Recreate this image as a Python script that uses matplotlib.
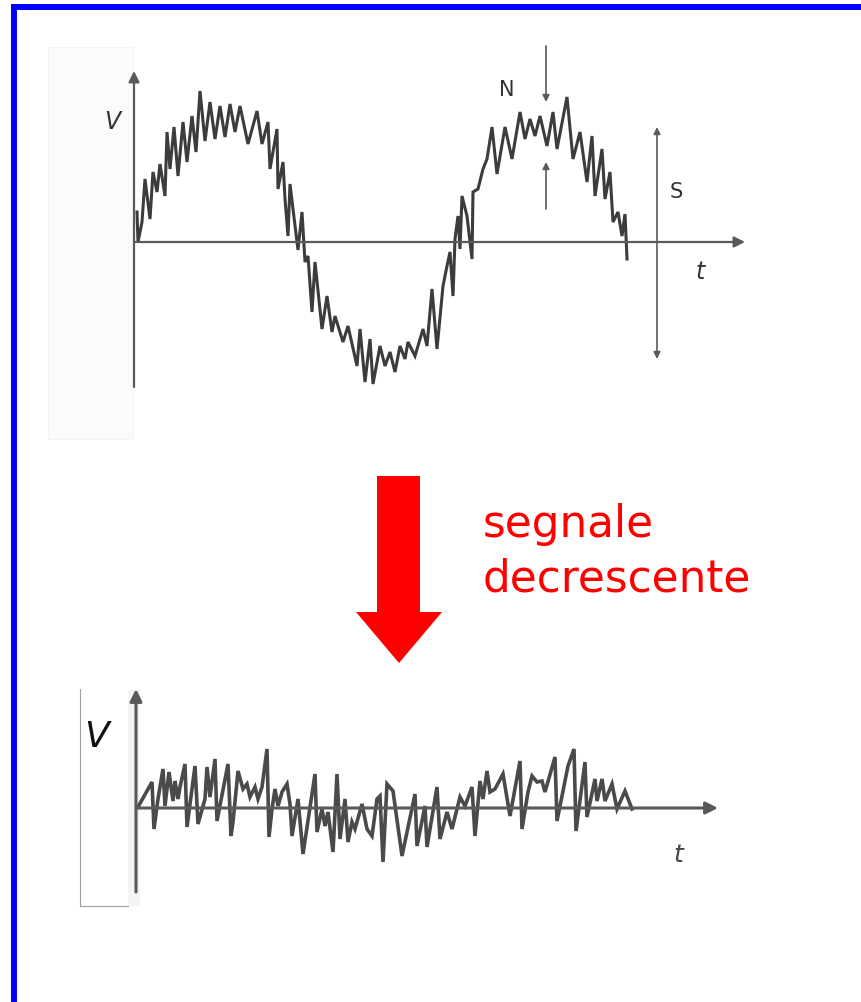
import matplotlib
matplotlib.use("Agg")
import matplotlib.pyplot as plt
from matplotlib.patches import Polygon, Rectangle

# ---------------- data ----------------
# Top trace: signal + noise (t in arbitrary time units, v in mV-like units)
top_t = [3, 4, 8, 11, 16, 19, 23, 26, 31, 33, 36, 40, 44, 49, 53, 58, 62, 66, 71, 76,
         81, 86, 91, 96, 101, 106, 114, 123, 128, 134, 136, 143, 144, 149, 151, 154, 156,
         159, 164, 168, 171, 174, 178, 181, 188, 193, 198, 201, 209, 214, 223, 226, 231,
         236, 239, 246, 251, 256, 261, 266, 271, 274, 281, 289, 293, 298, 303, 309, 313,
         316, 319, 321, 324, 326, 328, 333, 338, 339, 344, 349, 353, 358, 363, 371, 378,
         386, 391, 396, 401, 406, 413, 419, 423, 433, 439, 446, 453, 458, 461, 468, 471,
         476, 479, 484, 488, 491, 493]
top_v = [30, 0, 20, 63, 23, 70, 50, 78, 46, 110, 73, 115, 66, 120, 80, 126, 90, 151, 101, 140,
         103, 136, 105, 138, 110, 136, 98, 131, 98, 120, 73, 113, 53, 80, 43, 6, 58,
         33, -8, 30, -20, -14, -70, -20, -87, -54, -90, -74, -100, -84, -124, -87, -140,
         -97, -142, -104, -124, -110, -130, -104, -117, -100, -114, -87, -104, -47, -107, -44, -24,
         -10, -54, 3, 26, -7, 46, 26, -17, 50, 53, 73, 83, 115, 68, 115, 83,
         130, 103, 123, 106, 126, 96, 130, 93, 145, 83, 110, 60, 106, 46, 93, 43,
         70, 20, 30, 6, 28, -17]

# Bottom trace: decreased signal, same noise level
bot_t = [2, 16, 18, 22, 27, 29, 33, 37, 39, 42, 44, 49, 51, 59, 62, 69, 71, 74, 79, 81,
         92, 95, 97, 102, 107, 111, 114, 119, 122, 126, 131, 133, 136, 139, 142, 146, 151,
         154, 156, 162, 167, 179, 181, 186, 189, 192, 197, 201, 204, 209, 212, 216, 219,
         226, 231, 236, 241, 244, 247, 251, 257, 266, 279, 281, 289, 291, 301, 304, 311,
         316, 324, 329, 336, 339, 344, 347, 351, 354, 359, 367, 374, 384, 386, 392, 396,
         401, 406, 409, 419, 421, 432, 438, 440, 449, 451, 459, 461, 466, 469, 476, 481,
         489, 496]
bot_v = [1, 26, -21, 9, 39, 2, 36, 7, 27, 9, 21, 44, -19, 42, -16, 9, 41, 11, 49, -13,
         44, -28, -14, 37, 19, 24, 11, 21, 9, 21, 59, -29, -1, 19, 2, 16, 24,
         4, -28, 9, -46, 34, -24, -1, -18, -4, -44, 34, -31, 9, -34, -14, -21,
         4, -21, -28, 9, 12, -54, 24, 17, -48, 14, -38, 2, -39, 21, -31, -4,
         -21, 11, 2, 21, -28, 27, 9, 37, 16, 19, 34, -8, 47, -21, 16, 32,
         26, 27, 16, 51, -13, 42, 59, -23, 46, -9, 29, 7, 29, 7, 24, -1,
         17, -1]

top_labels = {"V": "V", "t": "t", "N": "N", "S": "S"}
caption = ["segnale", "decrescente"]

# ---------------- figure ----------------
W, H = 861, 1003
fig = plt.figure(figsize=(W / 100, H / 100), dpi=100)
fig.patch.set_facecolor("white")

# overlay (pixel layout) axes for decorations
bg = fig.add_axes([0, 0, 1, 1])
bg.set_xlim(0, W)
bg.set_ylim(H, 0)
bg.axis("off")

# blue frame (left and top only)
bg.plot([13.5, 13.5], [5, H], color="#0000ff", lw=4.3, solid_capstyle="butt")
bg.plot([11, W], [8, 8], color="#0000ff", lw=4.3, solid_capstyle="butt")

# faint scan background of the top picture
bg.add_patch(Rectangle((48, 48), 85, 392, facecolor="#fbfbfb", edgecolor="#f3f3f3", lw=0.6))
# scan frame of the bottom picture
bg.plot([80, 80], [690, 907], color="#a0a0a0", lw=0.8)
bg.plot([80, 128], [907, 907], color="#a0a0a0", lw=0.8)
bg.add_patch(Rectangle((128, 690), 12, 217, facecolor="#f4f4f4", edgecolor="none"))

# red arrow
arrow = Polygon([(377, 477), (420, 477), (420, 613), (442, 613), (399, 664),
                 (356, 613), (377, 613)], closed=True, facecolor="#ff0000", edgecolor="none")
bg.add_patch(arrow)
bg.text(483, 537, caption[0], color="#ff0000", fontsize=31.5, family="DejaVu Sans",
        va="baseline", ha="left")
bg.text(483, 592, caption[1], color="#ff0000", fontsize=31.5, family="DejaVu Sans",
        va="baseline", ha="left")

curve_col = "#3c3c3c"
axis_col = "#5a5a5a"


def make_axes(x0, x1, y_top, y_bot, y_zero):
    """Axes whose data unit equals one pixel; origin at (x0, y_zero)."""
    ax = fig.add_axes([x0 / W, 1 - y_bot / H, (x1 - x0) / W, (y_bot - y_top) / H])
    ax.set_xlim(0, x1 - x0)
    ax.set_ylim(y_zero - y_bot, y_zero - y_top)
    ax.axis("off")
    ax.patch.set_alpha(0)
    return ax


# ---------------- top plot ----------------
ax1 = make_axes(134, 760, 40, 395, 243)
ax1.annotate("", xy=(611, 0), xytext=(0, 0),
             arrowprops=dict(arrowstyle="-|>", color=axis_col, lw=1.6, mutation_scale=16,
                             shrinkA=0, shrinkB=0))
ax1.annotate("", xy=(0, 171), xytext=(0, -145),
             arrowprops=dict(arrowstyle="-|>", color=axis_col, lw=1.6, mutation_scale=16,
                             shrinkA=0, shrinkB=0))
ax1.plot(top_t, top_v, color=curve_col, lw=2.2, solid_joinstyle="miter")
# noise marker N
ax1.annotate("", xy=(412, 140), xytext=(412, 196),
             arrowprops=dict(arrowstyle="-|>", color=axis_col, lw=1.2, mutation_scale=10,
                             shrinkA=0, shrinkB=0))
ax1.annotate("", xy=(412, 80), xytext=(412, 33),
             arrowprops=dict(arrowstyle="-|>", color=axis_col, lw=1.2, mutation_scale=10,
                             shrinkA=0, shrinkB=0))
# signal marker S
ax1.annotate("", xy=(523, 115), xytext=(523, -117),
             arrowprops=dict(arrowstyle="<|-|>", color=axis_col, lw=1.2, mutation_scale=10,
                             shrinkA=0, shrinkB=0))
ax1.text(373, 153, top_labels["N"], fontsize=15, color="#333333", ha="center", va="center")
ax1.text(542, 51, top_labels["S"], fontsize=15, color="#333333", ha="center", va="center")
ax1.text(-22, 121, top_labels["V"], fontsize=17, style="italic", color="#333333",
         ha="center", va="center", clip_on=False)
ax1.text(566, -29, top_labels["t"], fontsize=17, style="italic", color="#333333",
         ha="center", va="center")

# ---------------- bottom plot ----------------
ax2 = make_axes(136, 735, 680, 900, 809)
ax2.annotate("", xy=(582, 0), xytext=(0, 0),
             arrowprops=dict(arrowstyle="-|>", color=axis_col, lw=2.2, mutation_scale=18,
                             shrinkA=0, shrinkB=0))
ax2.annotate("", xy=(0, 119), xytext=(0, -84),
             arrowprops=dict(arrowstyle="-|>", color=axis_col, lw=2.2, mutation_scale=18,
                             shrinkA=0, shrinkB=0))
ax2.plot(bot_t, bot_v, color="#4a4a4a", lw=2.6, solid_joinstyle="miter")
ax2.text(-39, 72, top_labels["V"], fontsize=26, style="italic", color="#111111",
         ha="center", va="center", clip_on=False)
ax2.text(542, -46, top_labels["t"], fontsize=18, style="italic", color="#444444",
         ha="center", va="center")

fig.savefig("out.png", dpi=100, facecolor="white")
